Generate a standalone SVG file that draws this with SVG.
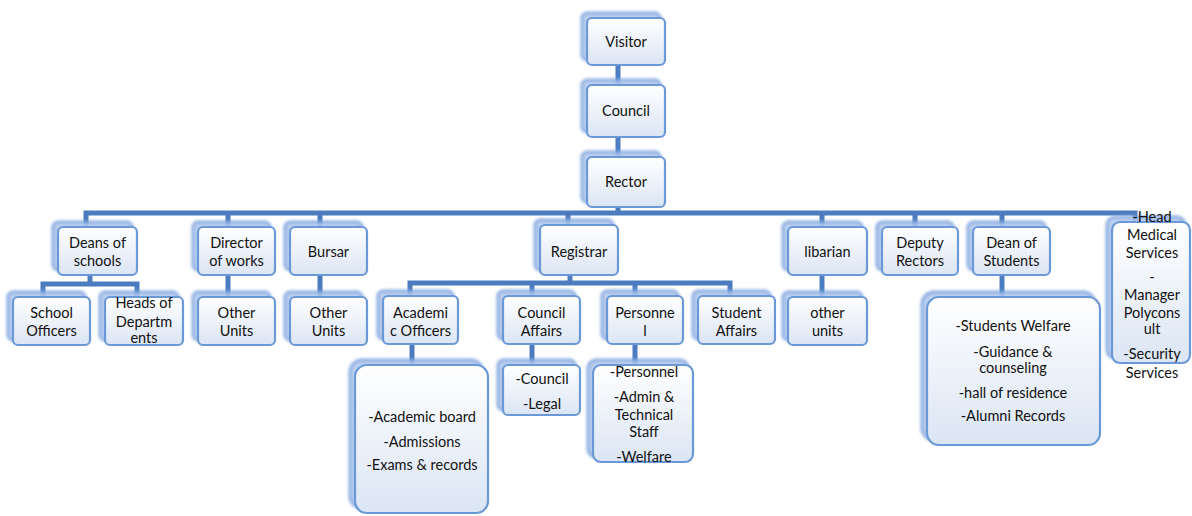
<svg xmlns="http://www.w3.org/2000/svg" width="1192" height="516" viewBox="0 0 1192 516">
<defs>
<linearGradient id="fillg" x1="0" y1="0" x2="0" y2="1">
<stop offset="0" stop-color="#ffffff"/>
<stop offset="1" stop-color="#dbe5f4"/>
</linearGradient>
<filter id="blur" x="-20%" y="-20%" width="140%" height="140%">
<feGaussianBlur stdDeviation="1.8"/>
</filter>
</defs>
<style>
.sh{fill:#b4cbee;stroke:#7da3dd;stroke-width:3;filter:url(#blur);opacity:0.9}
.bx{fill:url(#fillg);stroke:#6b98d6;stroke-width:2.2}
.t{font-family:Lato,"Liberation Sans",sans-serif;font-size:14.5px;fill:#111;text-anchor:middle}
.c{fill:none;stroke:#4a7cbf;stroke-width:5;stroke-linejoin:miter}
</style>
<g id="connectors">
<path class="c" d="M618 65V85M618 137V157M618 207V213"/>
<path class="c" d="M86 228V213H1135V222"/>
<path class="c" d="M228 213V228M320 213V228M568 213V226M822 213V228M915 213V228M1002 213V228"/>
<path class="c" d="M90 275V284M43 297V284H137V297"/>
<path class="c" d="M228 275V297M320 275V297"/>
<path class="c" d="M570 275V283M410 296V283H730V296M532 283V296M635 283V296"/>
<path class="c" d="M412 344V365M532 344V365M635 344V365"/>
<path class="c" d="M822 275V297M1002 275V297"/>
</g>
<g id="visitor"><rect class="sh" x="582" y="13" width="78" height="47" rx="5"/><rect class="bx" x="587" y="18" width="78" height="47" rx="5"/><text class="t" x="626" y="47">Visitor</text></g>
<g id="council"><rect class="sh" x="582" y="80" width="78" height="52" rx="5"/><rect class="bx" x="587" y="85" width="78" height="52" rx="5"/><text class="t" x="626" y="116">Council</text></g>
<g id="rector"><rect class="sh" x="582" y="152" width="78" height="50" rx="5"/><rect class="bx" x="587" y="157" width="78" height="50" rx="5"/><text class="t" x="626" y="187">Rector</text></g>
<g id="deans"><rect class="sh" x="53" y="222" width="79" height="48" rx="5"/><rect class="bx" x="58" y="227" width="79" height="48" rx="5"/><text class="t" x="97.5" y="248">Deans of</text><text class="t" x="97.5" y="266">schools</text></g>
<g id="director"><rect class="sh" x="193" y="222" width="77" height="48" rx="5"/><rect class="bx" x="198" y="227" width="77" height="48" rx="5"/><text class="t" x="236.5" y="248">Director</text><text class="t" x="236.5" y="266">of works</text></g>
<g id="bursar"><rect class="sh" x="285" y="222" width="77" height="48" rx="5"/><rect class="bx" x="290" y="227" width="77" height="48" rx="5"/><text class="t" x="328.5" y="257">Bursar</text></g>
<g id="registrar"><rect class="sh" x="535" y="220" width="78" height="50" rx="5"/><rect class="bx" x="540" y="225" width="78" height="50" rx="5"/><text class="t" x="579" y="257">Registrar</text></g>
<g id="libarian"><rect class="sh" x="783" y="222" width="79" height="48" rx="5"/><rect class="bx" x="788" y="227" width="79" height="48" rx="5"/><text class="t" x="827.5" y="257">libarian</text></g>
<g id="deputy"><rect class="sh" x="877" y="222" width="76" height="48" rx="5"/><rect class="bx" x="882" y="227" width="76" height="48" rx="5"/><text class="t" x="920" y="248">Deputy</text><text class="t" x="920" y="266">Rectors</text></g>
<g id="deanstudents"><rect class="sh" x="968" y="222" width="77" height="48" rx="5"/><rect class="bx" x="973" y="227" width="77" height="48" rx="5"/><text class="t" x="1011.5" y="248">Dean of</text><text class="t" x="1011.5" y="266">Students</text></g>
<g id="head"><rect class="sh" x="1107" y="217" width="78" height="141" rx="8"/><rect class="bx" x="1112" y="222" width="78" height="141" rx="8"/>
<text class="t" x="1152" y="222">-Head</text><text class="t" x="1152" y="240">Medical</text><text class="t" x="1152" y="258">Services</text><text class="t" x="1152" y="282">-</text><text class="t" x="1152" y="300">Manager</text><text class="t" x="1152" y="318">Polycons</text><text class="t" x="1152" y="334">ult</text><text class="t" x="1152" y="359">-Security</text><text class="t" x="1152" y="378">Services</text></g>
<g id="schoolofficers"><rect class="sh" x="8" y="292" width="77" height="48" rx="5"/><rect class="bx" x="13" y="297" width="77" height="48" rx="5"/><text class="t" x="51.5" y="318">School</text><text class="t" x="51.5" y="336">Officers</text></g>
<g id="heads"><rect class="sh" x="100" y="292" width="78" height="48" rx="5"/><rect class="bx" x="105" y="297" width="78" height="48" rx="5"/><text class="t" x="144" y="308">Heads of</text><text class="t" x="144" y="327">Departm</text><text class="t" x="144" y="343">ents</text></g>
<g id="otherunits1"><rect class="sh" x="193" y="292" width="77" height="48" rx="5"/><rect class="bx" x="198" y="297" width="77" height="48" rx="5"/><text class="t" x="236.5" y="318">Other</text><text class="t" x="236.5" y="336">Units</text></g>
<g id="otherunits2"><rect class="sh" x="285" y="292" width="77" height="48" rx="5"/><rect class="bx" x="290" y="297" width="77" height="48" rx="5"/><text class="t" x="328.5" y="318">Other</text><text class="t" x="328.5" y="336">Units</text></g>
<g id="academic"><rect class="sh" x="378" y="291" width="75" height="48" rx="5"/><rect class="bx" x="383" y="296" width="75" height="48" rx="5"/><text class="t" x="420.5" y="318">Academi</text><text class="t" x="420.5" y="336">c Officers</text></g>
<g id="counciaffairs"><rect class="sh" x="498" y="291" width="77" height="48" rx="5"/><rect class="bx" x="503" y="296" width="77" height="48" rx="5"/><text class="t" x="541.5" y="318">Council</text><text class="t" x="541.5" y="336">Affairs</text></g>
<g id="personnel"><rect class="sh" x="602" y="291" width="76" height="48" rx="5"/><rect class="bx" x="607" y="296" width="76" height="48" rx="5"/><text class="t" x="645" y="318">Personne</text><text class="t" x="645" y="336">l</text></g>
<g id="studentaffairs"><rect class="sh" x="693" y="291" width="77" height="48" rx="5"/><rect class="bx" x="698" y="296" width="77" height="48" rx="5"/><text class="t" x="736.5" y="318">Student</text><text class="t" x="736.5" y="336">Affairs</text></g>
<g id="otherunits3"><rect class="sh" x="783" y="292" width="79" height="48" rx="5"/><rect class="bx" x="788" y="297" width="79" height="48" rx="5"/><text class="t" x="827.5" y="318">other</text><text class="t" x="827.5" y="336">units</text></g>
<g id="academicdetails"><rect class="sh" x="350" y="360" width="133" height="148" rx="12"/><rect class="bx" x="355" y="365" width="133" height="148" rx="12"/><text class="t" x="422" y="422">-Academic board</text><text class="t" x="422" y="447">-Admissions</text><text class="t" x="422" y="470">-Exams &amp; records</text></g>
<g id="councillegal"><rect class="sh" x="498" y="360" width="77" height="50" rx="5"/><rect class="bx" x="503" y="365" width="77" height="50" rx="5"/><text class="t" x="542" y="384">-Council</text><text class="t" x="542" y="409">-Legal</text></g>
<g id="personneldetails"><rect class="sh" x="588" y="360" width="100" height="97" rx="8"/><rect class="bx" x="593" y="365" width="100" height="97" rx="8"/><text class="t" x="644" y="377">-Personnel</text><text class="t" x="644" y="402">-Admin &amp;</text><text class="t" x="644" y="420">Technical</text><text class="t" x="644" y="437">Staff</text><text class="t" x="644" y="462">-Welfare</text></g>
<g id="studentsdetails"><rect class="sh" x="922" y="292" width="173" height="148" rx="12"/><rect class="bx" x="927" y="297" width="173" height="148" rx="12"/><text class="t" x="1013" y="331">-Students Welfare</text><text class="t" x="1013" y="357">-Guidance &amp;</text><text class="t" x="1013" y="373">counseling</text><text class="t" x="1013" y="398">-hall of residence</text><text class="t" x="1013" y="421">-Alumni Records</text></g>
</svg>
